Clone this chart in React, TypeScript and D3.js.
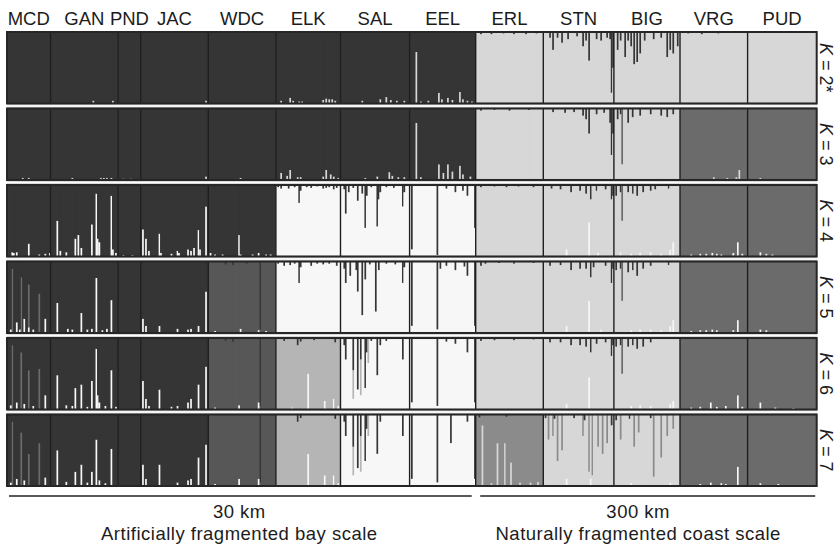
import * as d3 from 'd3'

const populations = ['MCD', 'GAN', 'PND', 'JAC', 'WDC', 'ELK', 'SAL', 'EEL', 'ERL', 'STN', 'BIG', 'VRG', 'PUD']
const sampleSizes = [29, 45, 15, 45, 45, 43, 46, 44, 45, 47, 44, 45, 46]
const kValues = ['2*', '3', '4', '5', '6', '7']
const bayScale = ['30 km', 'Artificially fragmented bay scale']
const coastScale = ['300 km', 'Naturally fragmented coast scale']

const clusterColors: Record<string, string> = {
  dark: '#353535',
  light: '#d7d7d7',
  mid: '#6b6b6b',
  white: '#f7f7f7',
  wdc: '#575757',
  elk: '#b5b5b5',
  erl: '#8b8b8b',
}
// bottom -> top order of the stacked memberships
const stackOrder = ['white', 'light', 'elk', 'erl', 'mid', 'wdc', 'dark']

// main cluster of each population, per K
const baseK2 = ['dark', 'dark', 'dark', 'dark', 'dark', 'dark', 'dark', 'dark', 'light', 'light', 'light', 'light', 'light']
const baseK3 = ['dark', 'dark', 'dark', 'dark', 'dark', 'dark', 'dark', 'dark', 'light', 'light', 'light', 'mid', 'mid']
const baseK4 = ['dark', 'dark', 'dark', 'dark', 'dark', 'white', 'white', 'white', 'light', 'light', 'light', 'mid', 'mid']
const baseK5 = ['dark', 'dark', 'dark', 'dark', 'wdc', 'white', 'white', 'white', 'light', 'light', 'light', 'mid', 'mid']
const baseK6 = ['dark', 'dark', 'dark', 'dark', 'wdc', 'elk', 'white', 'white', 'light', 'light', 'light', 'mid', 'mid']
const baseK7 = ['dark', 'dark', 'dark', 'dark', 'wdc', 'elk', 'white', 'white', 'erl', 'light', 'light', 'mid', 'mid']

type Spike = [string, number, number, string] // population, individual, membership, cluster

const spikesK2: Spike[] = [
  ['GAN', 28, 0.04, 'light'], ['GAN', 41, 0.04, 'light'], ['JAC', 43, 0.04, 'light'],
  ['ELK', 3, 0.04, 'light'], ['ELK', 9, 0.08, 'light'], ['ELK', 11, 0.04, 'light'], ['ELK', 15, 0.03, 'light'],
  ['ELK', 17, 0.03, 'light'], ['ELK', 31, 0.05, 'light'], ['ELK', 33, 0.07, 'light'], ['ELK', 35, 0.06, 'light'],
  ['ELK', 37, 0.06, 'light'], ['ELK', 39, 0.04, 'light'],
  ['SAL', 14, 0.04, 'light'], ['SAL', 26, 0.06, 'light'], ['SAL', 30, 0.09, 'light'], ['SAL', 33, 0.05, 'light'],
  ['SAL', 37, 0.04, 'light'], ['SAL', 42, 0.04, 'light'],
  ['EEL', 4, 0.72, 'light'], ['EEL', 7, 0.03, 'light'], ['EEL', 12, 0.04, 'light'], ['EEL', 19, 0.15, 'light'],
  ['EEL', 21, 0.06, 'light'], ['EEL', 25, 0.08, 'light'], ['EEL', 28, 0.05, 'light'], ['EEL', 33, 0.16, 'light'],
  ['EEL', 35, 0.06, 'light'], ['EEL', 38, 0.04, 'light'], ['EEL', 41, 0.03, 'light'],
  ['ERL', 3, 0.03, 'dark'], ['ERL', 10, 0.03, 'dark'], ['ERL', 18, 0.02, 'dark'], ['ERL', 25, 0.03, 'dark'],
  ['ERL', 33, 0.03, 'dark'], ['ERL', 40, 0.02, 'dark'],
  ['STN', 4, 0.08, 'dark'], ['STN', 6, 0.25, 'dark'], ['STN', 9, 0.08, 'dark'], ['STN', 12, 0.15, 'dark'],
  ['STN', 16, 0.1, 'dark'], ['STN', 22, 0.06, 'dark'], ['STN', 26, 0.2, 'dark'], ['STN', 28, 0.12, 'dark'],
  ['STN', 30, 0.4, 'dark'], ['STN', 35, 0.1, 'dark'], ['STN', 38, 0.12, 'dark'], ['STN', 42, 0.08, 'dark'],
  ['STN', 44, 0.1, 'dark'], ['STN', 45, 0.85, 'dark'], ['STN', 46, 0.5, 'dark'],
  ['BIG', 2, 0.25, 'dark'], ['BIG', 4, 0.12, 'dark'], ['BIG', 7, 0.35, 'dark'], ['BIG', 9, 0.12, 'dark'],
  ['BIG', 11, 0.2, 'dark'], ['BIG', 13, 0.45, 'dark'], ['BIG', 15, 0.42, 'dark'], ['BIG', 17, 0.3, 'dark'],
  ['BIG', 20, 0.12, 'dark'], ['BIG', 26, 0.1, 'dark'], ['BIG', 31, 0.08, 'dark'], ['BIG', 35, 0.35, 'dark'],
  ['BIG', 37, 0.25, 'dark'], ['BIG', 39, 0.3, 'dark'], ['BIG', 42, 0.2, 'dark'],
  ['VRG', 5, 0.02, 'dark'], ['VRG', 14, 0.03, 'dark'], ['VRG', 25, 0.02, 'dark'],
]

const spikesK3: Spike[] = [
  ['MCD', 10, 0.03, 'light'], ['MCD', 14, 0.03, 'light'],
  ['GAN', 14, 0.03, 'light'], ['GAN', 33, 0.03, 'light'], ['GAN', 35, 0.03, 'light'], ['GAN', 37, 0.03, 'light'],
  ['GAN', 40, 0.03, 'light'], ['PND', 3, 0.02, 'light'], ['PND', 8, 0.02, 'light'],
  ['JAC', 43, 0.05, 'light'], ['WDC', 21, 0.03, 'light'],
  ['ELK', 3, 0.1, 'light'], ['ELK', 7, 0.06, 'light'], ['ELK', 9, 0.14, 'light'], ['ELK', 14, 0.04, 'light'],
  ['ELK', 16, 0.04, 'light'], ['ELK', 31, 0.05, 'light'], ['ELK', 33, 0.14, 'light'], ['ELK', 36, 0.08, 'light'],
  ['ELK', 38, 0.05, 'light'], ['ELK', 41, 0.03, 'light'],
  ['SAL', 16, 0.03, 'light'], ['SAL', 24, 0.05, 'light'], ['SAL', 32, 0.11, 'light'], ['SAL', 34, 0.06, 'light'],
  ['SAL', 38, 0.04, 'light'], ['SAL', 42, 0.04, 'light'],
  ['EEL', 4, 0.8, 'light'], ['EEL', 7, 0.04, 'light'], ['EEL', 19, 0.22, 'light'], ['EEL', 22, 0.1, 'light'],
  ['EEL', 25, 0.22, 'light'], ['EEL', 28, 0.12, 'light'], ['EEL', 33, 0.2, 'light'], ['EEL', 35, 0.08, 'light'],
  ['EEL', 40, 0.05, 'light'],
  ['ERL', 3, 0.03, 'dark'], ['ERL', 12, 0.02, 'dark'], ['ERL', 22, 0.03, 'dark'], ['ERL', 35, 0.02, 'dark'],
  ['STN', 6, 0.05, 'dark'], ['STN', 14, 0.06, 'dark'], ['STN', 20, 0.05, 'dark'], ['STN', 26, 0.1, 'dark'],
  ['STN', 28, 0.15, 'dark'], ['STN', 30, 0.35, 'dark'], ['STN', 35, 0.08, 'dark'], ['STN', 40, 0.06, 'dark'],
  ['STN', 44, 0.2, 'dark'], ['STN', 45, 0.65, 'dark'], ['STN', 46, 0.35, 'dark'],
  ['BIG', 2, 0.15, 'dark'], ['BIG', 4, 0.08, 'dark'], ['BIG', 5, 0.78, 'mid'], ['BIG', 9, 0.2, 'dark'],
  ['BIG', 12, 0.12, 'dark'], ['BIG', 17, 0.1, 'dark'], ['BIG', 24, 0.08, 'dark'], ['BIG', 31, 0.1, 'dark'],
  ['BIG', 35, 0.12, 'dark'], ['BIG', 39, 0.08, 'dark'],
  ['VRG', 22, 0.04, 'light'], ['VRG', 31, 0.03, 'light'], ['VRG', 37, 0.04, 'light'], ['VRG', 39, 0.14, 'light'],
  ['PUD', 8, 0.03, 'light'],
]

const spikesK4: Spike[] = [
  ['MCD', 3, 0.06, 'white'], ['MCD', 4, 0.05, 'white'], ['MCD', 6, 0.06, 'white'], ['MCD', 14, 0.18, 'white'],
  ['MCD', 21, 0.03, 'white'], ['MCD', 25, 0.04, 'white'], ['MCD', 28, 0.05, 'white'],
  ['GAN', 4, 0.5, 'white'], ['GAN', 6, 0.08, 'white'], ['GAN', 10, 0.06, 'white'], ['GAN', 16, 0.25, 'white'],
  ['GAN', 18, 0.3, 'white'], ['GAN', 20, 0.12, 'white'], ['GAN', 27, 0.45, 'white'], ['GAN', 30, 0.88, 'white'],
  ['GAN', 31, 0.25, 'white'], ['GAN', 32, 0.2, 'white'], ['GAN', 40, 0.85, 'white'], ['GAN', 41, 0.1, 'white'],
  ['GAN', 43, 0.05, 'white'], ['PND', 3, 0.02, 'white'], ['PND', 9, 0.02, 'white'],
  ['JAC', 1, 0.38, 'white'], ['JAC', 3, 0.25, 'white'], ['JAC', 5, 0.08, 'white'], ['JAC', 12, 0.32, 'white'],
  ['JAC', 13, 0.05, 'white'], ['JAC', 20, 0.04, 'white'], ['JAC', 24, 0.08, 'white'], ['JAC', 25, 0.05, 'white'],
  ['JAC', 31, 0.1, 'white'], ['JAC', 33, 0.08, 'white'], ['JAC', 35, 0.12, 'white'], ['JAC', 38, 0.37, 'white'],
  ['JAC', 39, 0.1, 'white'], ['JAC', 43, 0.7, 'white'],
  ['WDC', 1, 0.05, 'white'], ['WDC', 4, 0.03, 'white'], ['WDC', 9, 0.03, 'white'], ['WDC', 20, 0.3, 'white'],
  ['WDC', 21, 0.03, 'white'], ['WDC', 29, 0.03, 'white'], ['WDC', 33, 0.05, 'white'], ['WDC', 38, 0.03, 'white'],
  ['WDC', 41, 0.03, 'white'],
  ['ELK', 1, 0.03, 'dark'], ['ELK', 3, 0.05, 'dark'], ['ELK', 8, 0.05, 'dark'], ['ELK', 12, 0.03, 'dark'],
  ['ELK', 15, 0.25, 'dark'], ['ELK', 16, 0.08, 'dark'], ['ELK', 20, 0.03, 'dark'], ['ELK', 23, 0.04, 'dark'],
  ['ELK', 27, 0.02, 'dark'], ['ELK', 31, 0.05, 'dark'], ['ELK', 33, 0.04, 'dark'], ['ELK', 35, 0.03, 'dark'],
  ['ELK', 38, 0.06, 'dark'], ['ELK', 40, 0.04, 'dark'],
  ['SAL', 2, 0.06, 'dark'], ['SAL', 3, 0.4, 'dark'], ['SAL', 5, 0.1, 'dark'], ['SAL', 8, 0.04, 'dark'],
  ['SAL', 11, 0.22, 'dark'], ['SAL', 14, 0.12, 'dark'], ['SAL', 16, 0.6, 'dark'], ['SAL', 17, 0.15, 'dark'],
  ['SAL', 20, 0.03, 'dark'], ['SAL', 24, 0.58, 'dark'], ['SAL', 25, 0.2, 'dark'], ['SAL', 26, 0.1, 'dark'],
  ['SAL', 30, 0.03, 'dark'], ['SAL', 35, 0.04, 'dark'], ['SAL', 41, 0.3, 'dark'], ['SAL', 42, 0.1, 'dark'],
  ['EEL', 1, 0.9, 'dark'], ['EEL', 18, 0.98, 'dark'], ['EEL', 24, 0.05, 'dark'], ['EEL', 30, 0.1, 'dark'],
  ['EEL', 35, 0.08, 'dark'], ['EEL', 38, 0.15, 'dark'], ['EEL', 43, 0.6, 'dark'],
  ['ERL', 3, 0.03, 'dark'], ['ERL', 12, 0.02, 'dark'], ['ERL', 20, 0.03, 'dark'], ['ERL', 28, 0.02, 'dark'],
  ['ERL', 38, 0.03, 'dark'],
  ['STN', 5, 0.05, 'dark'], ['STN', 11, 0.06, 'dark'], ['STN', 18, 0.1, 'dark'], ['STN', 24, 0.08, 'dark'],
  ['STN', 28, 0.12, 'dark'], ['STN', 31, 0.2, 'dark'], ['STN', 35, 0.08, 'dark'], ['STN', 41, 0.06, 'dark'],
  ['STN', 45, 0.2, 'dark'], ['STN', 46, 0.15, 'dark'],
  ['STN', 15, 0.1, 'white'], ['STN', 30, 0.48, 'white'], ['STN', 36, 0.05, 'white'],
  ['BIG', 1, 0.15, 'dark'], ['BIG', 4, 0.1, 'dark'], ['BIG', 5, 0.5, 'mid'], ['BIG', 9, 0.1, 'dark'],
  ['BIG', 12, 0.12, 'dark'], ['BIG', 15, 0.15, 'dark'], ['BIG', 19, 0.1, 'dark'], ['BIG', 24, 0.08, 'dark'],
  ['BIG', 27, 0.06, 'dark'], ['BIG', 36, 0.05, 'dark'],
  ['BIG', 4, 0.06, 'white'], ['BIG', 11, 0.04, 'white'], ['BIG', 17, 0.05, 'white'], ['BIG', 24, 0.06, 'white'],
  ['BIG', 31, 0.04, 'white'], ['BIG', 37, 0.1, 'white'], ['BIG', 39, 0.2, 'white'],
  ['VRG', 7, 0.03, 'white'], ['VRG', 13, 0.04, 'white'], ['VRG', 17, 0.04, 'white'], ['VRG', 21, 0.05, 'white'],
  ['VRG', 24, 0.04, 'white'], ['VRG', 27, 0.03, 'white'], ['VRG', 35, 0.05, 'white'], ['VRG', 38, 0.2, 'white'],
  ['VRG', 41, 0.04, 'white'],
  ['PUD', 8, 0.06, 'white'], ['PUD', 12, 0.04, 'white'], ['PUD', 16, 0.03, 'white'],
]

const spikesK5: Spike[] = [
  ['MCD', 3, 0.9, 'mid'], ['MCD', 9, 0.78, 'mid'], ['MCD', 14, 0.6, 'mid'], ['MCD', 21, 0.55, 'mid'],
  ['MCD', 2, 0.05, 'white'], ['MCD', 6, 0.15, 'white'], ['MCD', 8, 0.05, 'white'], ['MCD', 11, 0.2, 'white'],
  ['MCD', 14, 0.08, 'white'], ['MCD', 17, 0.05, 'white'], ['MCD', 25, 0.2, 'white'],
  ['GAN', 4, 0.42, 'white'], ['GAN', 11, 0.06, 'white'], ['GAN', 14, 0.05, 'white'], ['GAN', 20, 0.28, 'white'],
  ['GAN', 24, 0.05, 'white'], ['GAN', 27, 0.06, 'white'], ['GAN', 30, 0.77, 'white'], ['GAN', 34, 0.04, 'white'],
  ['GAN', 37, 0.06, 'white'], ['GAN', 40, 0.46, 'white'],
  ['JAC', 1, 0.2, 'white'], ['JAC', 3, 0.1, 'white'], ['JAC', 12, 0.1, 'white'], ['JAC', 24, 0.06, 'white'],
  ['JAC', 31, 0.05, 'white'], ['JAC', 33, 0.06, 'white'], ['JAC', 38, 0.1, 'white'], ['JAC', 43, 0.58, 'white'],
  ['WDC', 11, 0.04, 'dark'], ['WDC', 16, 0.05, 'dark'], ['WDC', 25, 0.03, 'dark'], ['WDC', 34, 0.95, 'dark'],
  ['WDC', 4, 0.03, 'white'], ['WDC', 21, 0.06, 'white'], ['WDC', 33, 0.04, 'white'], ['WDC', 38, 0.03, 'white'],
  ['ELK', 1, 0.03, 'dark'], ['ELK', 5, 0.06, 'dark'], ['ELK', 9, 0.05, 'dark'], ['ELK', 12, 0.03, 'dark'],
  ['ELK', 15, 0.3, 'dark'], ['ELK', 16, 0.08, 'dark'], ['ELK', 23, 0.06, 'dark'], ['ELK', 27, 0.03, 'dark'],
  ['ELK', 31, 0.04, 'dark'], ['ELK', 35, 0.03, 'dark'], ['ELK', 40, 0.06, 'dark'],
  ['SAL', 2, 0.1, 'dark'], ['SAL', 3, 0.3, 'dark'], ['SAL', 6, 0.2, 'dark'], ['SAL', 10, 0.12, 'dark'],
  ['SAL', 11, 0.42, 'dark'], ['SAL', 14, 0.75, 'dark'], ['SAL', 16, 0.25, 'dark'], ['SAL', 19, 0.04, 'dark'],
  ['SAL', 23, 0.7, 'dark'], ['SAL', 25, 0.12, 'dark'], ['SAL', 30, 0.03, 'dark'], ['SAL', 36, 0.04, 'dark'],
  ['SAL', 41, 0.3, 'dark'], ['SAL', 42, 0.08, 'dark'],
  ['EEL', 1, 0.9, 'dark'], ['EEL', 18, 0.95, 'dark'], ['EEL', 20, 0.1, 'dark'], ['EEL', 24, 0.06, 'dark'],
  ['EEL', 30, 0.12, 'dark'], ['EEL', 36, 0.07, 'dark'], ['EEL', 38, 0.2, 'dark'], ['EEL', 43, 0.9, 'dark'],
  ['ERL', 3, 0.06, 'dark'], ['ERL', 6, 0.03, 'dark'], ['ERL', 15, 0.02, 'dark'], ['ERL', 25, 0.03, 'dark'],
  ['ERL', 38, 0.02, 'dark'],
  ['STN', 4, 0.06, 'dark'], ['STN', 11, 0.05, 'dark'], ['STN', 18, 0.12, 'dark'], ['STN', 24, 0.1, 'dark'],
  ['STN', 28, 0.1, 'dark'], ['STN', 31, 0.22, 'dark'], ['STN', 33, 0.08, 'dark'], ['STN', 41, 0.06, 'dark'],
  ['STN', 45, 0.3, 'dark'], ['STN', 46, 0.1, 'dark'],
  ['STN', 15, 0.1, 'white'], ['STN', 30, 0.45, 'white'], ['STN', 38, 0.05, 'white'],
  ['BIG', 1, 0.12, 'dark'], ['BIG', 4, 0.1, 'dark'], ['BIG', 5, 0.55, 'mid'], ['BIG', 9, 0.15, 'dark'],
  ['BIG', 12, 0.12, 'dark'], ['BIG', 15, 0.2, 'dark'], ['BIG', 19, 0.1, 'dark'], ['BIG', 24, 0.06, 'dark'],
  ['BIG', 36, 0.05, 'dark'],
  ['BIG', 11, 0.04, 'white'], ['BIG', 17, 0.05, 'white'], ['BIG', 24, 0.05, 'white'], ['BIG', 31, 0.04, 'white'],
  ['BIG', 37, 0.1, 'white'], ['BIG', 39, 0.18, 'white'],
  ['VRG', 7, 0.03, 'white'], ['VRG', 13, 0.04, 'white'], ['VRG', 17, 0.04, 'white'], ['VRG', 21, 0.05, 'white'],
  ['VRG', 24, 0.04, 'white'], ['VRG', 35, 0.04, 'white'], ['VRG', 38, 0.18, 'white'],
  ['PUD', 8, 0.05, 'white'], ['PUD', 12, 0.04, 'white'],
]

const spikesK6: Spike[] = [
  ['MCD', 3, 0.9, 'mid'], ['MCD', 9, 0.8, 'mid'], ['MCD', 14, 0.55, 'mid'], ['MCD', 21, 0.57, 'mid'],
  ['MCD', 2, 0.06, 'white'], ['MCD', 6, 0.1, 'white'], ['MCD', 11, 0.08, 'white'], ['MCD', 17, 0.05, 'white'],
  ['MCD', 25, 0.2, 'white'],
  ['GAN', 4, 0.48, 'white'], ['GAN', 10, 0.06, 'white'], ['GAN', 14, 0.05, 'white'], ['GAN', 16, 0.3, 'white'],
  ['GAN', 20, 0.35, 'white'], ['GAN', 24, 0.04, 'white'], ['GAN', 27, 0.4, 'white'], ['GAN', 30, 0.85, 'white'],
  ['GAN', 31, 0.2, 'white'], ['GAN', 32, 0.1, 'white'], ['GAN', 36, 0.05, 'white'], ['GAN', 40, 0.55, 'white'],
  ['GAN', 43, 0.04, 'white'],
  ['JAC', 1, 0.4, 'white'], ['JAC', 3, 0.15, 'white'], ['JAC', 5, 0.05, 'white'], ['JAC', 12, 0.28, 'white'],
  ['JAC', 20, 0.04, 'white'], ['JAC', 24, 0.05, 'white'], ['JAC', 31, 0.1, 'white'], ['JAC', 33, 0.15, 'white'],
  ['JAC', 38, 0.35, 'white'], ['JAC', 43, 0.6, 'white'],
  ['WDC', 11, 0.04, 'dark'], ['WDC', 16, 0.05, 'dark'], ['WDC', 34, 0.95, 'dark'],
  ['WDC', 4, 0.03, 'white'], ['WDC', 20, 0.06, 'white'], ['WDC', 33, 0.1, 'white'],
  ['ELK', 10, 0.03, 'white'], ['ELK', 21, 0.5, 'white'], ['ELK', 32, 0.12, 'white'], ['ELK', 38, 0.15, 'white'],
  ['ELK', 41, 0.05, 'white'],
  ['ELK', 5, 0.04, 'dark'], ['ELK', 14, 0.1, 'dark'], ['ELK', 16, 0.05, 'dark'], ['ELK', 25, 0.03, 'dark'],
  ['ELK', 39, 0.06, 'dark'],
  ['SAL', 2, 0.1, 'dark'], ['SAL', 3, 0.3, 'dark'], ['SAL', 8, 0.45, 'dark'], ['SAL', 11, 0.72, 'dark'],
  ['SAL', 13, 0.3, 'dark'], ['SAL', 16, 0.7, 'dark'], ['SAL', 17, 0.2, 'dark'], ['SAL', 20, 0.04, 'dark'],
  ['SAL', 24, 0.52, 'dark'], ['SAL', 26, 0.1, 'dark'], ['SAL', 30, 0.04, 'dark'], ['SAL', 41, 0.3, 'dark'],
  ['SAL', 8, 0.4, 'elk'], ['SAL', 13, 0.5, 'elk'], ['SAL', 18, 0.35, 'elk'],
  ['EEL', 1, 0.9, 'dark'], ['EEL', 18, 0.95, 'dark'], ['EEL', 24, 0.05, 'dark'], ['EEL', 30, 0.08, 'dark'],
  ['EEL', 38, 0.2, 'dark'], ['EEL', 43, 0.9, 'dark'],
  ['ERL', 3, 0.04, 'dark'], ['ERL', 12, 0.03, 'dark'], ['ERL', 25, 0.03, 'dark'], ['ERL', 38, 0.02, 'dark'],
  ['STN', 4, 0.06, 'dark'], ['STN', 11, 0.06, 'dark'], ['STN', 18, 0.1, 'dark'], ['STN', 24, 0.1, 'dark'],
  ['STN', 28, 0.12, 'dark'], ['STN', 31, 0.2, 'dark'], ['STN', 35, 0.08, 'dark'], ['STN', 41, 0.06, 'dark'],
  ['STN', 45, 0.25, 'dark'], ['STN', 46, 0.1, 'dark'],
  ['STN', 15, 0.08, 'white'], ['STN', 30, 0.45, 'white'],
  ['BIG', 1, 0.12, 'dark'], ['BIG', 4, 0.1, 'dark'], ['BIG', 5, 0.5, 'mid'], ['BIG', 9, 0.12, 'dark'],
  ['BIG', 12, 0.1, 'dark'], ['BIG', 15, 0.15, 'dark'], ['BIG', 19, 0.12, 'dark'], ['BIG', 24, 0.06, 'dark'],
  ['BIG', 11, 0.05, 'white'], ['BIG', 17, 0.06, 'white'], ['BIG', 24, 0.05, 'white'], ['BIG', 37, 0.08, 'white'],
  ['BIG', 39, 0.12, 'white'],
  ['VRG', 7, 0.03, 'white'], ['VRG', 13, 0.04, 'white'], ['VRG', 20, 0.1, 'white'], ['VRG', 24, 0.04, 'white'],
  ['VRG', 30, 0.05, 'white'], ['VRG', 38, 0.2, 'white'], ['VRG', 41, 0.04, 'white'],
  ['PUD', 8, 0.1, 'white'], ['PUD', 18, 0.03, 'white'], ['PUD', 30, 0.02, 'white'],
]

const spikesK7: Spike[] = [
  ['MCD', 3, 0.9, 'mid'], ['MCD', 9, 0.75, 'mid'], ['MCD', 14, 0.45, 'mid'], ['MCD', 21, 0.6, 'mid'],
  ['MCD', 2, 0.05, 'white'], ['MCD', 6, 0.1, 'white'], ['MCD', 11, 0.08, 'white'], ['MCD', 25, 0.12, 'white'],
  ['GAN', 4, 0.5, 'white'], ['GAN', 10, 0.06, 'white'], ['GAN', 16, 0.2, 'white'], ['GAN', 20, 0.3, 'white'],
  ['GAN', 24, 0.05, 'white'], ['GAN', 27, 0.2, 'white'], ['GAN', 30, 0.65, 'white'], ['GAN', 32, 0.08, 'white'],
  ['GAN', 36, 0.04, 'white'], ['GAN', 40, 0.52, 'white'],
  ['JAC', 1, 0.3, 'white'], ['JAC', 3, 0.1, 'white'], ['JAC', 12, 0.3, 'white'], ['JAC', 24, 0.05, 'white'],
  ['JAC', 31, 0.08, 'white'], ['JAC', 33, 0.1, 'white'], ['JAC', 38, 0.4, 'white'], ['JAC', 43, 0.58, 'white'],
  ['WDC', 34, 0.95, 'dark'], ['WDC', 4, 0.03, 'white'], ['WDC', 20, 0.1, 'white'], ['WDC', 33, 0.1, 'white'],
  ['ELK', 21, 0.45, 'white'], ['ELK', 32, 0.15, 'white'], ['ELK', 38, 0.15, 'white'], ['ELK', 41, 0.04, 'white'],
  ['ELK', 14, 0.1, 'dark'], ['ELK', 16, 0.05, 'dark'], ['ELK', 39, 0.06, 'dark'],
  ['SAL', 2, 0.1, 'dark'], ['SAL', 3, 0.3, 'dark'], ['SAL', 8, 0.45, 'dark'], ['SAL', 11, 0.75, 'dark'],
  ['SAL', 13, 0.3, 'dark'], ['SAL', 16, 0.65, 'dark'], ['SAL', 17, 0.2, 'dark'], ['SAL', 24, 0.55, 'dark'],
  ['SAL', 26, 0.1, 'dark'], ['SAL', 41, 0.3, 'dark'],
  ['SAL', 8, 0.4, 'elk'], ['SAL', 13, 0.5, 'elk'], ['SAL', 18, 0.3, 'elk'],
  ['EEL', 1, 0.9, 'dark'], ['EEL', 18, 0.95, 'dark'], ['EEL', 27, 0.4, 'dark'], ['EEL', 38, 0.1, 'dark'],
  ['EEL', 43, 0.9, 'dark'],
  ['ERL', 4, 0.85, 'light'], ['ERL', 10, 0.04, 'light'], ['ERL', 14, 0.6, 'light'], ['ERL', 19, 0.6, 'light'],
  ['ERL', 23, 0.33, 'light'], ['ERL', 29, 0.05, 'light'], ['ERL', 36, 0.05, 'light'], ['ERL', 41, 0.06, 'light'],
  ['ERL', 2, 0.04, 'dark'], ['ERL', 20, 0.03, 'dark'],
  ['STN', 3, 0.35, 'erl'], ['STN', 6, 0.3, 'erl'], ['STN', 9, 0.65, 'erl'], ['STN', 12, 0.5, 'erl'],
  ['STN', 26, 0.3, 'erl'], ['STN', 30, 0.8, 'erl'], ['STN', 32, 0.85, 'erl'], ['STN', 36, 0.45, 'erl'],
  ['STN', 39, 0.55, 'erl'], ['STN', 42, 0.4, 'erl'],
  ['STN', 1, 0.05, 'dark'], ['STN', 7, 0.06, 'dark'], ['STN', 20, 0.05, 'dark'], ['STN', 27, 0.08, 'dark'],
  ['STN', 45, 0.15, 'dark'], ['STN', 15, 0.1, 'white'], ['STN', 31, 0.1, 'white'],
  ['BIG', 4, 0.35, 'erl'], ['BIG', 13, 0.45, 'erl'], ['BIG', 16, 0.25, 'erl'], ['BIG', 26, 0.87, 'erl'],
  ['BIG', 31, 0.6, 'erl'], ['BIG', 35, 0.3, 'erl'], ['BIG', 39, 0.2, 'erl'],
  ['BIG', 1, 0.08, 'dark'], ['BIG', 10, 0.06, 'dark'], ['BIG', 24, 0.05, 'dark'],
  ['BIG', 11, 0.04, 'white'], ['BIG', 37, 0.05, 'white'],
  ['VRG', 13, 0.03, 'white'], ['VRG', 20, 0.05, 'white'], ['VRG', 27, 0.04, 'white'], ['VRG', 30, 0.03, 'white'],
  ['VRG', 38, 0.27, 'white'],
  ['PUD', 8, 0.04, 'white'], ['PUD', 20, 0.03, 'white'],
]

const basesByK = [baseK2, baseK3, baseK4, baseK5, baseK6, baseK7]
const spikesByK = [spikesK2, spikesK3, spikesK4, spikesK5, spikesK6, spikesK7]

const W = 836
const H = 547
const FONT = '"Liberation Sans", Arial, Helvetica, sans-serif'

export default function App() {
  const starts = [0, ...d3.cumsum(sampleSizes)]
  const total = starts[starts.length - 1]
  const popIndex = new Map(populations.map((p, i) => [p, i]))

  const x = d3.scaleLinear().domain([0, total]).range([7, 816.7])
  const y = d3.scaleBand<string>().domain(kValues).range([32, 486]).paddingInner(0.066)
  const bw = y.bandwidth()
  const step = y.step()

  const bayEnd = starts[populations.indexOf('ERL')]

  return (
    <svg width={W} height={H} style={{ position: 'absolute', left: 0, top: 0, background: '#fff' }} fontFamily={FONT}>
      {/* population names */}
      {populations.map((p, i) => (
        <text key={p} x={(x(starts[i]) + x(starts[i + 1])) / 2} y={25} textAnchor="middle" fontSize={18.5} fill="#1c1c1c">
          {p}
        </text>
      ))}

      {/* separators between K rows */}
      {kValues.slice(0, -1).map((k) => {
        const top = (y(k) as number) + bw
        const gap = step - bw
        return (
          <g key={'sep' + k}>
            <rect x={x(0)} y={top} width={x(total) - x(0)} height={gap} fill="#c4c4c4" />
            <rect x={x(0)} y={top + gap / 2 - 0.9} width={x(total) - x(0)} height={1.8} fill="#fbfbfb" />
          </g>
        )
      })}

      {kValues.map((k, ki) => {
        const top = y(k) as number
        const yFrac = d3.scaleLinear().domain([0, 1]).range([top + bw, top])
        const bases = basesByK[ki]

        // gather memberships of admixed individuals
        const admixed = d3.group(spikesByK[ki], (s) => starts[popIndex.get(s[0]) as number] + s[1])
        const bars: JSX.Element[] = []
        admixed.forEach((list, ind) => {
          const pop = list[0][0]
          const base = bases[popIndex.get(pop) as number]
          const q: Record<string, number> = {}
          list.forEach(([, , v, c]) => (q[c] = (q[c] || 0) + v))
          q[base] = Math.max(0, 1 - d3.sum(Object.values(q)))
          let cum = 0
          stackOrder.forEach((c) => {
            const v = q[c] || 0
            if (v <= 0) return
            bars.push(
              <rect
                key={ind + c}
                x={x(ind) - 0.1}
                width={x(ind + 1) - x(ind) + 0.2}
                y={yFrac(cum + v)}
                height={yFrac(cum) - yFrac(cum + v)}
                fill={clusterColors[c]}
              />
            )
            cum += v
          })
        })

        return (
          <g key={k}>
            {populations.map((p, i) => (
              <rect
                key={p}
                x={x(starts[i])}
                width={x(starts[i + 1]) - x(starts[i])}
                y={top}
                height={bw}
                fill={clusterColors[bases[i]]}
              />
            ))}
            {bars}
            {populations.slice(1).map((p, i) => (
              <line key={'b' + p} x1={x(starts[i + 1])} x2={x(starts[i + 1])} y1={top} y2={top + bw} stroke="#1f1f1f" strokeWidth={1.4} />
            ))}
            <rect x={x(0)} y={top} width={x(total) - x(0)} height={bw} fill="none" stroke="#262626" strokeWidth={2} />
            <text
              transform={`translate(826,${top + bw / 2}) rotate(90)`}
              textAnchor="middle"
              dy="0.35em"
              fontSize={18}
              fill="#1c1c1c"
            >
              <tspan fontStyle="italic">K</tspan>
              {' = ' + k}
            </text>
          </g>
        )
      })}

      {/* scale brackets */}
      <line x1={x(0) + 2} x2={x(bayEnd) - 4} y1={496} y2={496} stroke="#222" strokeWidth={1.5} />
      <line x1={x(bayEnd) + 4.5} x2={x(total) - 1.5} y1={496} y2={496} stroke="#222" strokeWidth={1.5} />
      {bayScale.map((t, i) => (
        <text key={t} x={(x(0) + x(bayEnd)) / 2 - 2} y={518 + i * 22} textAnchor="middle" fontSize={18.5} letterSpacing={0.5} fill="#1c1c1c">
          {t}
        </text>
      ))}
      {coastScale.map((t, i) => (
        <text key={t} x={(x(bayEnd) + x(total)) / 2 - 8} y={518 + i * 22} textAnchor="middle" fontSize={18.5} letterSpacing={0.5} fill="#1c1c1c">
          {t}
        </text>
      ))}
    </svg>
  )
}
